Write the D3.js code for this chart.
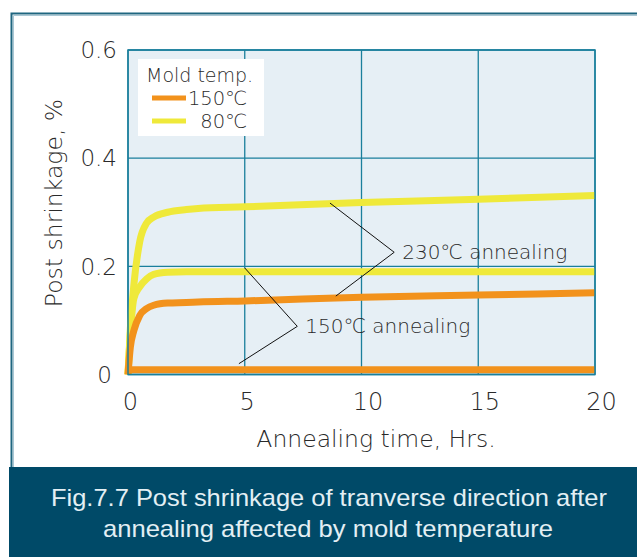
<!DOCTYPE html>
<html><head><meta charset="utf-8">
<script src="https://cdn.jsdelivr.net/npm/d3@7"></script>
<style>
html,body{margin:0;padding:0;background:#fff;}
svg{display:block;}
</style></head>
<body>
<script>
// ---- data ----
const time      = [0, 0.1, 0.25, 0.5, 0.8, 1.1, 1.7, 2.5, 3, 5, 10, 15, 20];
const m80_a230  = [0, 0.085, 0.165, 0.245, 0.28, 0.291, 0.300, 0.305, 0.307, 0.310, 0.318, 0.324, 0.331];
const m80_a150  = [0, 0.075, 0.14, 0.162, 0.177, 0.185, 0.189, 0.19, 0.19, 0.19, 0.19, 0.19, 0.19];
const m150_a230 = [0, 0.05, 0.081, 0.109, 0.122, 0.128, 0.132, 0.133, 0.134, 0.136, 0.143, 0.147, 0.151];
const m150_a150 = [0.009, 0.009, 0.009, 0.009, 0.009, 0.009, 0.009, 0.009, 0.009, 0.009, 0.009, 0.009, 0.009];
const xTicks = [0, 5, 10, 15, 20];
const yTicks = [0, 0.2, 0.4, 0.6];
const yTickLabels = ["0", "0.2", "0.4", "0.6"];
const legendLabels = ["150℃", "80℃"];
const legendTitle = "Mold temp.";
const xTitle = "Annealing time, Hrs.";
const yTitle = "Post shrinkage, %";
const caption = ["Fig.7.7 Post shrinkage of tranverse direction after", "annealing affected by mold temperature"];
const annot230 = {label: "230℃ annealing", vertex: [11.4, 0.226], ends: [[8.65, 0.317], [8.9, 0.145]]};
const annot150 = {label: "150℃ annealing", vertex: [7.25, 0.089], ends: [[5.0, 0.197], [4.75, 0.02]]};

const ORANGE = "#f2921c", YELLOW = "#efe93a";
const GRID = "#1a7f9c", BG = "#e6eff5";
const FONT = "'DejaVu Sans','Noto Sans',sans-serif";
const TXT = "#2a2a2a";

const W = 637, H = 557;
const svg = d3.select("body").append("svg").attr("width", W).attr("height", H);

// outer frame
svg.append("path").attr("d", `M637,13.5 H11.5 V468`).attr("fill", "none")
  .attr("stroke", "#1f6680").attr("stroke-width", 2);
svg.append("path").attr("d", `M637,15.5 H13.5 V468`).attr("fill", "none")
  .attr("stroke", "#a9c7d4").attr("stroke-width", 1);

// caption band
svg.append("rect").attr("x", 9).attr("y", 467).attr("width", W - 9).attr("height", H - 467).attr("fill", "#004a68");
const capFont = "'Liberation Sans Narrow','Liberation Sans',Arial,sans-serif";
svg.append("text").attr("x", 329).attr("y", 506).attr("text-anchor", "middle")
  .attr("fill", "#e3eff4").style("font-family", capFont)
  .style("font-size", "24px").attr("textLength", 556).attr("lengthAdjust", "spacingAndGlyphs").text(caption[0]);
svg.append("text").attr("x", 328).attr("y", 537).attr("text-anchor", "middle")
  .attr("fill", "#e3eff4").style("font-family", capFont)
  .style("font-size", "24px").attr("textLength", 450).attr("lengthAdjust", "spacingAndGlyphs").text(caption[1]);

// scales
const x = d3.scaleLinear().domain([0, 20]).range([128, 595]);
const y = d3.scaleLinear().domain([0, 0.6]).range([374.5, 50]);

// plot background
svg.append("rect").attr("x", x(0)).attr("y", y(0.6)).attr("width", x(20) - x(0)).attr("height", y(0) - y(0.6)).attr("fill", BG);

// grid
const g = svg.append("g");
g.selectAll("line.vg").data(xTicks).join("line")
  .attr("x1", d => x(d)).attr("x2", d => x(d)).attr("y1", y(0.6)).attr("y2", y(0))
  .attr("stroke", GRID).attr("stroke-width", 1.3);
g.selectAll("line.hg").data(yTicks).join("line").attr("class", "hg")
  .attr("x1", x(0)).attr("x2", x(20)).attr("y1", d => y(d)).attr("y2", d => y(d))
  .attr("stroke", GRID).attr("stroke-width", 1.3);

// axes labels (ticks via d3 axis, domain hidden)
const xAxis = svg.append("g").attr("transform", `translate(0,${y(0)})`)
  .call(d3.axisBottom(x).tickValues(xTicks).tickSize(0).tickPadding(18).tickFormat(d3.format("d")));
const yAxis = svg.append("g").attr("transform", `translate(${x(0) - 11},0)`)
  .call(d3.axisLeft(y).tickValues(yTicks).tickSize(0).tickPadding(0).tickFormat((d, i) => yTickLabels[i]));
[xAxis, yAxis].forEach(a => a.select(".domain").remove());
xAxis.selectAll("text").style("font-family", FONT).style("font-size", "24px").style("font-weight", 200)
  .attr("fill", TXT).attr("dx", d => d >= 10 ? 6 : 2);
yAxis.selectAll("text").style("font-family", FONT).style("font-size", "23px").style("font-weight", 200)
  .attr("fill", TXT).attr("dx", d => d === 0 ? -5 : 0).attr("dy", "0.34em");

// titles
svg.append("text").attr("x", 376).attr("y", 447).attr("text-anchor", "middle")
  .style("font-family", FONT).style("font-size", "23.5px").style("font-weight", 200).attr("fill", TXT).text(xTitle);
svg.append("text").attr("transform", "translate(62,203) rotate(-90)").attr("text-anchor", "middle")
  .style("font-family", FONT).style("font-size", "23.5px").style("font-weight", 200).attr("fill", TXT).text(yTitle);

// data lines
const line = d3.line().x((d, i) => x(time[i])).y(d => y(d)).curve(d3.curveMonotoneX);
const series = [
  {v: m80_a230, c: YELLOW},
  {v: m80_a150, c: YELLOW},
  {v: m150_a230, c: ORANGE},
  {v: m150_a150, c: ORANGE}
];
svg.append("g").selectAll("path").data(series).join("path")
  .attr("d", d => line(d.v)).attr("fill", "none").attr("stroke", d => d.c)
  .attr("stroke-width", 7).attr("stroke-linejoin", "round");

// plot border
svg.append("rect").attr("x", x(0)).attr("y", y(0.6)).attr("width", x(20) - x(0)).attr("height", y(0) - y(0.6))
  .attr("fill", "none").attr("stroke", GRID).attr("stroke-width", 1.5);

// annotations
[annot230, annot150].forEach(a => {
  const ag = svg.append("g");
  a.ends.forEach(e => {
    ag.append("line").attr("x1", x(a.vertex[0])).attr("y1", y(a.vertex[1]))
      .attr("x2", x(e[0])).attr("y2", y(e[1])).attr("stroke", "#111").attr("stroke-width", 1);
  });
  ag.append("text").attr("x", x(a.vertex[0]) + 8).attr("y", y(a.vertex[1]) + 7)
    .style("font-family", FONT).style("font-size", "20px").style("font-weight", 200).attr("fill", TXT).text(a.label);
});

// legend
const lg = svg.append("g");
lg.append("rect").attr("x", 138).attr("y", 59).attr("width", 126).attr("height", 77).attr("fill", "#fff");
lg.append("text").attr("x", 146).attr("y", 82).style("font-family", FONT).style("font-size", "19px")
  .style("font-weight", 200).attr("fill", TXT).text(legendTitle);
const legendColors = [ORANGE, YELLOW];
legendLabels.forEach((lab, i) => {
  const ly = 98 + i * 23;
  lg.append("line").attr("x1", 152).attr("x2", 186).attr("y1", ly).attr("y2", ly)
    .attr("stroke", legendColors[i]).attr("stroke-width", 5);
  lg.append("text").attr("x", 247).attr("y", ly + 7).attr("text-anchor", "end")
    .style("font-family", FONT).style("font-size", "19.5px").style("font-weight", 200).attr("fill", TXT).text(lab);
});
</script>
</body></html>
